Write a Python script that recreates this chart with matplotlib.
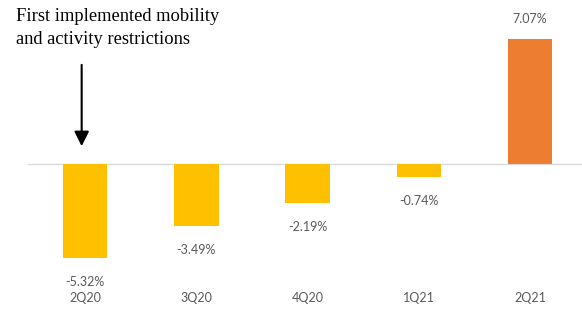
import matplotlib.pyplot as plt

quarters = ['2Q20', '3Q20', '4Q20', '1Q21', '2Q21']
growth = [-5.32, -3.49, -2.19, -0.74, 7.07]
labels = ['-5.32%', '-3.49%', '-2.19%', '-0.74%', '7.07%']
colors = ['#FFC000', '#FFC000', '#FFC000', '#FFC000', '#ED7D31']

fig = plt.figure(figsize=(5.82, 3.25), dpi=100)
ax = fig.add_axes([0, 0, 1, 1])
ax.set_xlim(-0.764, 4.467)
ax.set_ylim(-9.10, 9.27)
ax.axis('off')

x = list(range(len(quarters)))
ax.bar(x, growth, width=0.40, color=colors, zorder=2)

# zero line
ax.axhline(0, xmin=28 / 582, xmax=1, color='#D9D9D9', lw=1, zorder=1)

gray = '#595959'
for i, v in enumerate(growth):
    off = -24 if v < 0 else 20
    ax.annotate(labels[i], (i, v), xytext=(0, off), textcoords='offset pixels',
                ha='center', va='center', fontsize=9, color=gray, family='Lato')
    ax.text(i, 1 - 298 / 325, quarters[i], transform=ax.get_xaxis_transform(),
            ha='center', va='center', fontsize=9, color=gray, family='Lato')

ax.text(16 / 582, 1 - 8 / 325, 'First implemented mobility\nand activity restrictions',
        transform=ax.transAxes, ha='left', va='top', fontsize=13.3,
        family='Liberation Serif', color='black', linespacing=1.5)

ax.annotate('', xy=(-0.03, 0.85), xytext=(-0.03, 5.76),
            arrowprops=dict(arrowstyle='-|>', color='black', lw=1.5,
                            mutation_scale=22))

fig.savefig('out.png', dpi=100)
